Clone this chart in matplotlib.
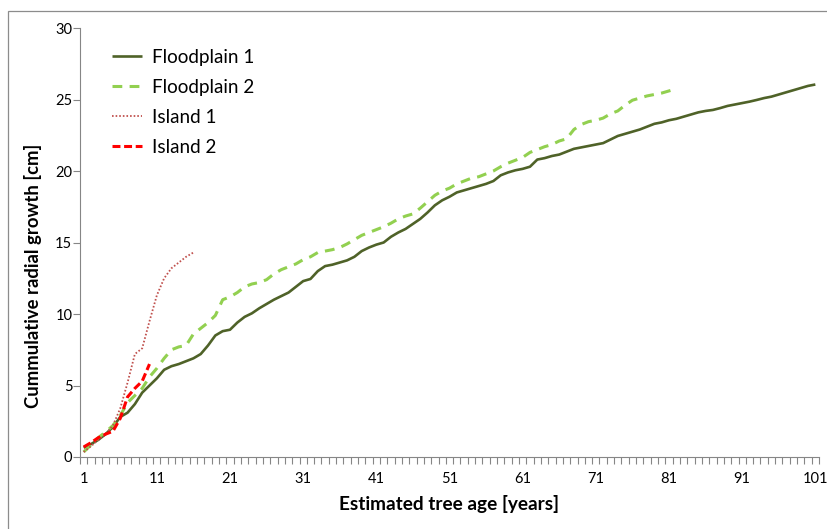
import numpy as np
import matplotlib
matplotlib.use("Agg")
import matplotlib.pyplot as plt
from matplotlib.patches import Rectangle

# ---- data ----
floodplain1 = [0.65, 0.9, 1.2, 1.6, 2.1, 2.8, 3.1, 3.7, 4.5, 5.0,
               5.5, 6.1, 6.35, 6.5, 6.7, 6.9, 7.2, 7.8, 8.5, 8.8,
               8.9, 9.4, 9.8, 10.05, 10.4, 10.7, 11.0, 11.25, 11.5, 11.9,
               12.3, 12.45, 13.0, 13.35, 13.45, 13.6, 13.75, 14.0, 14.4, 14.65,
               14.85, 15.0, 15.4, 15.7, 15.95, 16.3, 16.65, 17.1, 17.6, 17.95,
               18.2, 18.5, 18.65, 18.8, 18.95, 19.1, 19.3, 19.7, 19.9, 20.05,
               20.15, 20.3, 20.8, 20.9, 21.05, 21.15, 21.35, 21.55, 21.65, 21.75,
               21.85, 21.95, 22.2, 22.45, 22.6, 22.75, 22.9, 23.1, 23.3, 23.4,
               23.55, 23.65, 23.8, 23.95, 24.1, 24.2, 24.27, 24.4, 24.55, 24.65,
               24.75, 24.85, 24.97, 25.1, 25.2, 25.35, 25.5, 25.65, 25.8, 25.95,
               26.05]
floodplain2 = [0.35, 0.85, 1.35, 1.75, 2.2, 2.9, 3.8, 4.3, 4.8, 5.6,
               6.2, 6.9, 7.5, 7.7, 7.8, 8.6, 9.0, 9.4, 9.9, 11.0,
               11.2, 11.5, 11.9, 12.1, 12.2, 12.4, 12.8, 13.1, 13.3, 13.5,
               13.8, 14.0, 14.3, 14.4, 14.5, 14.65, 14.9, 15.2, 15.5, 15.7,
               15.9, 16.1, 16.35, 16.65, 16.85, 17.0, 17.4, 17.85, 18.3, 18.6,
               18.8, 19.1, 19.3, 19.5, 19.6, 19.8, 20.0, 20.3, 20.55, 20.75,
               20.95, 21.3, 21.5, 21.7, 21.85, 22.1, 22.25, 22.9, 23.25, 23.45,
               23.55, 23.7, 24.0, 24.2, 24.6, 24.95, 25.1, 25.25, 25.35, 25.45,
               25.6, 25.75]
island1 = [0.35, 0.75, 1.2, 1.6, 2.2, 3.4, 5.2, 7.2, 7.6, 9.5,
           11.3, 12.5, 13.2, 13.6, 14.0, 14.3]
island2 = [0.7, 1.0, 1.35, 1.6, 1.8, 2.7, 4.2, 4.8, 5.3, 6.5]

series_names = ["Floodplain 1", "Floodplain 2", "Island 1", "Island 2"]
x_tick_labels = ["1", "11", "21", "31", "41", "51", "61", "71", "81", "91", "101"]
y_ticks = [0, 5, 10, 15, 20, 25, 30]

# ---- figure ----
W, H = 827, 529
fig = plt.figure(figsize=(W / 100, H / 100), dpi=100)
plt.rcParams['font.family'] = ['Lato', 'DejaVu Sans']

ax = fig.add_axes([80 / W, 1 - 457 / H, (819 - 80) / W, (457 - 28) / H])

def yrs(vals):
    return np.arange(1, len(vals) + 1)

ax.plot(yrs(floodplain1), floodplain1, color="#4F6228", lw=1.9,
        label=series_names[0], solid_capstyle="butt")
ax.plot(yrs(floodplain2), floodplain2, color="#92D050", lw=2.2,
        dashes=(3.2, 2.4), label=series_names[1])
ax.plot(yrs(island1), island1, color="#C0504D", lw=1.3,
        dashes=(0.9, 1.1), label=series_names[2])
ax.plot(yrs(island2), island2, color="#FF0000", lw=2.2,
        dashes=(2.6, 1.2), label=series_names[3])

ax.set_xlim(0.5, 101.5)
ax.set_ylim(0, 30)

major_x = [int(s) for s in x_tick_labels]
ax.set_xticks(major_x)
ax.set_xticklabels(x_tick_labels)
ax.set_xticks(np.arange(0.5, 102, 1.0), minor=True)
ax.tick_params(axis='x', which='major', length=0, pad=11, labelsize=10.5,
               colors="#000000")
ax.tick_params(axis='x', which='minor', length=5, width=0.8, color="#868686",
               direction='out')
ax.set_yticks(y_ticks)
ax.set_yticklabels([str(v) for v in y_ticks])
ax.tick_params(axis='y', which='major', length=5, width=0.8, color="#868686",
               direction='out', labelsize=10.5, pad=0.5)

for s in ("top", "right"):
    ax.spines[s].set_visible(False)
for s in ("left", "bottom"):
    ax.spines[s].set_color("#868686")
    ax.spines[s].set_linewidth(0.8)

ax.set_xlabel("Estimated tree age [years]", fontsize=13.7, fontweight='bold',
              labelpad=6)
ax.set_ylabel("Cummulative radial growth [cm]", fontsize=13.3, fontweight='bold')
ax.yaxis.set_label_coords(-0.052, (457 - 276) / (457 - 28))

leg = ax.legend(loc='upper left', bbox_to_anchor=(112 / W, 1 - 49 / H),
                bbox_transform=fig.transFigure, frameon=False, fontsize=13.6,
                handlelength=1.6, handletextpad=0.53, labelspacing=0.69,
                borderaxespad=0, borderpad=0)

# outer frame
fig.patches.append(Rectangle((8 / W, -0.05), 1.2, 1 - 11 / H + 0.05,
                             transform=fig.transFigure, fill=False,
                             edgecolor="#8C8C8C", lw=0.9))

fig.savefig("out.png", dpi=100)
